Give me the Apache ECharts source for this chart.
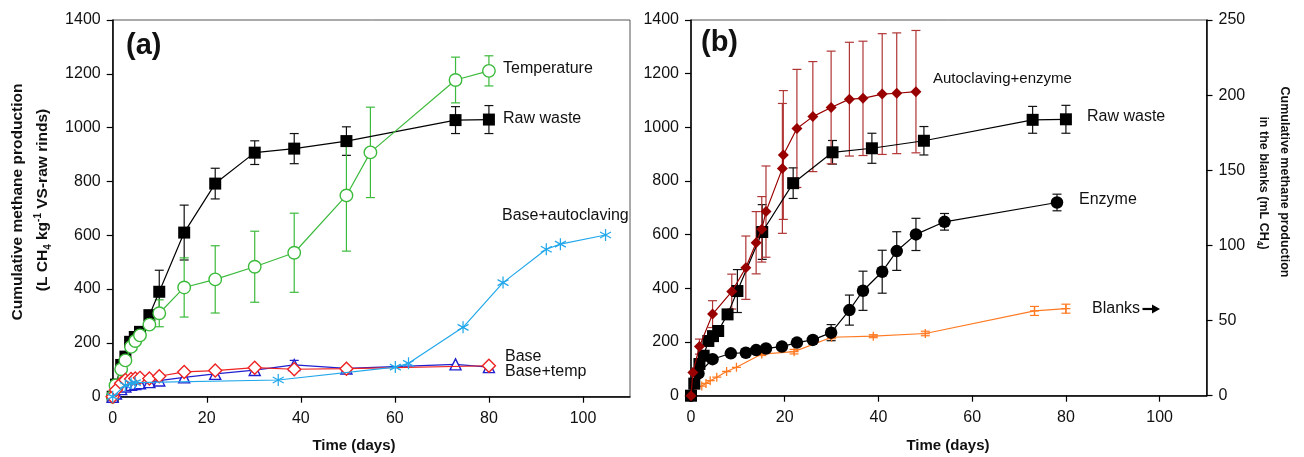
<!DOCTYPE html>
<html><head><meta charset="utf-8">
<script src="https://cdn.jsdelivr.net/npm/echarts@6/dist/echarts.min.js"></script>
<style>html,body{margin:0;padding:0;background:#fff}#c{width:1304px;height:457px}</style>
</head><body><div id="c"></div>
<script>
// ---------- Panel (a) ----------
const rawTime  = [0, 0.7, 1.8, 2.7, 3.7, 4.7, 5.8, 7.8, 9.9, 15.2, 21.8, 30.2, 38.6, 49.7, 72.9, 80];
const rawValue = [0, 45, 118, 149, 204, 222, 241, 303, 390, 610, 792, 907, 922, 950, 1028, 1030];
const rawError = [0, 0, 0, 0, 0, 10, 12, 15, 80, 102, 57, 44, 56, 53, 50, 52];

const tempTime  = [0, 0.6, 1.8, 2.7, 3.9, 4.8, 5.8, 7.8, 9.9, 15.2, 21.8, 30.2, 38.6, 49.7, 54.8, 72.9, 80];
const tempValue = [0, 42, 102, 135, 185, 207, 228, 268, 310, 406, 436, 483, 535, 748, 908, 1177, 1211];
const tempError = [0, 0, 0, 0, 0, 0, 0, 0, 50, 110, 125, 132, 147, 207, 168, 85, 56];

const baseTime  = [0, 0.7, 1.8, 2.7, 3.9, 4.8, 5.8, 7.8, 9.9, 15.2, 21.8, 30.2, 38.6, 49.7, 80];
const baseValue = [0, 25, 50, 62, 66, 68, 70, 68, 76, 92, 97, 108, 102, 104, 115];

const baseTempTime  = [0, 0.7, 1.8, 2.7, 3.9, 4.8, 5.8, 7.8, 9.9, 15.2, 21.8, 30.2, 38.6, 49.7, 72.9, 80];
const baseTempValue = [0, 12, 28, 38, 44, 47, 50, 54, 60, 72, 85, 99, 118, 105, 120, 110];
const baseTempError = [0, 0, 0, 0, 0, 0, 0, 0, 0, 0, 0, 0, 17, 0, 0, 0];

const baseAutoTime  = [0, 2.7, 3.9, 4.8, 35.2, 60.1, 62.9, 74.5, 83, 92.2, 95.2, 104.8];
const baseAutoValue = [0, 42, 50, 52, 62, 110, 124, 258, 424, 548, 567, 601];

// ---------- Panel (b) ----------
const autoEnzTime  = [0, 0.4, 1.8, 4.6, 8.7, 11.7, 13.9, 15.1, 16, 19.5, 19.7, 22.6, 26, 29.9, 33.8, 36.7, 40.8, 43.9, 48];
const autoEnzValue = [0, 86, 183, 304, 388, 477, 570, 620, 686, 847, 897, 996, 1040, 1074, 1105, 1108, 1124, 1127, 1133];
const autoEnzError = [0, 0, 28, 50, 65, 118, 116, 122, 170, 242, 240, 220, 205, 210, 212, 213, 225, 225, 228];

const enzTime  = [0, 1.6, 4.6, 8.5, 11.7, 13.9, 16, 19.4, 22.6, 26, 29.9, 33.8, 36.7, 40.8, 43.9, 48, 54.1, 78.1];
const enzValue = [0, 83, 136, 158, 160, 170, 176, 183, 198, 208, 235, 319, 391, 462, 539, 601, 648, 720];
const enzError = [0, 0, 0, 0, 0, 0, 0, 0, 0, 0, 30, 56, 73, 80, 72, 60, 31, 31];

// blanks on right axis (mL CH4)
const blankTime  = [0, 0.9, 2.3, 3.2, 4.1, 5.5, 7.6, 9.7, 15.1, 22, 30, 38.9, 50, 73.3, 80];
const blankValue = [2.7, 4.8, 6.4, 8.2, 10, 12.3, 16.1, 18.9, 27.7, 29.3, 38.9, 39.6, 41.4, 56.4, 57.9];
const blankError = [0, 0, 0, 0, 0, 0, 0, 0, 1, 1.5, 1, 1, 1.5, 3, 3];

const xTicks = [0, 20, 40, 60, 80, 100];

const FONT = 'Liberation Sans, Arial, sans-serif';
const pairs = (t, v) => t.map((x, i) => [x, v[i]]);

function errSeries(xi, yi, times, vals, errs, color, capHalf) {
  const data = [];
  times.forEach((t, i) => { if (errs[i] > 0) data.push([t, vals[i], errs[i]]); });
  return {
    type: 'custom', xAxisIndex: xi, yAxisIndex: yi, z: 1, silent: true,
    data: data, encode: { x: 0, y: 1 },
    renderItem: function (params, api) {
      const x = api.value(0), y = api.value(1), e = api.value(2);
      const hi = api.coord([x, y + e]), lo = api.coord([x, y - e]);
      const st = { stroke: color, lineWidth: 1.2 };
      return { type: 'group', children: [
        { type: 'line', shape: { x1: hi[0], y1: hi[1], x2: lo[0], y2: lo[1] }, style: st },
        { type: 'line', shape: { x1: hi[0] - capHalf, y1: hi[1], x2: hi[0] + capHalf, y2: hi[1] }, style: st },
        { type: 'line', shape: { x1: lo[0] - capHalf, y1: lo[1], x2: lo[0] + capHalf, y2: lo[1] }, style: st }
      ]};
    }
  };
}

function lineSeries(xi, yi, times, vals, color, symbol, size, filled, z) {
  return {
    type: 'line', xAxisIndex: xi, yAxisIndex: yi, z: z, silent: true,
    data: pairs(times, vals), symbol: symbol, symbolSize: size, showAllSymbol: true,
    lineStyle: { color: color, width: 1.2 },
    itemStyle: filled ? { color: color, borderColor: color, borderWidth: 0 }
                      : { color: '#fff', borderColor: color, borderWidth: 1.4 },
    animation: false
  };
}

const ASTER = 'path://M5,0L5,10M0.67,2.5L9.33,7.5M0.67,7.5L9.33,2.5';
const PLUS = 'path://M5,0L5,10M0,5L10,5';

function strokeSym(s) {
  s.itemStyle = { color: s.lineStyle.color, borderColor: s.lineStyle.color, borderWidth: 1.3 };
  return s;
}

const GREEN = '#3cba3c', RED = '#ee2222', BLUE = '#2020d0', CYAN = '#22a8ea',
      DRED = '#990000', DREDERR = '#b03535', ORANGE = '#ff7a22';

function xAx(gi) {
  return {
    gridIndex: gi, type: 'value', min: 0, max: 110, interval: 20,
    axisLine: { show: true, lineStyle: { color: '#000', width: 1.5 } },
    axisTick: { show: true, inside: false, length: 6, lineStyle: { color: '#000', width: 1.2 } },
    splitLine: { show: false },
    axisLabel: { fontSize: 16, color: '#111', fontFamily: FONT, margin: 14, showMaxLabel: false,
                 formatter: v => xTicks.indexOf(v) >= 0 ? String(v) : '' }
  };
}
function yAx(gi, max, interval, pos) {
  return {
    gridIndex: gi, type: 'value', min: 0, max: max, interval: interval, position: pos,
    axisLine: { show: true, onZero: false, lineStyle: { color: '#000', width: 1.5 } },
    axisTick: { show: true, inside: false, length: 6, lineStyle: { color: '#000', width: 1.2 } },
    splitLine: { show: false },
    axisLabel: { fontSize: 16, color: '#111', fontFamily: FONT, margin: 12, formatter: v => String(v) }
  };
}

const labelText = (x, y, txt, size) => ({
  type: 'text', x: x, y: y, silent: true,
  style: { text: txt, fontSize: size || 16, fontFamily: FONT, fill: '#111', align: 'left', verticalAlign: 'middle' }
});

const option = {
  animation: false,
  backgroundColor: '#fff',
  grid: [
    { left: 112.7, right: 674, top: 20, bottom: 60.3, show: true, borderColor: '#555', borderWidth: 1, backgroundColor: 'transparent' },
    { left: 691, right: 97.5, top: 20, bottom: 61.3, show: true, borderColor: '#555', borderWidth: 1, backgroundColor: 'transparent' }
  ],
  xAxis: [xAx(0), xAx(1)],
  yAxis: [yAx(0, 1400, 200, 'left'), yAx(1, 1400, 200, 'left'), yAx(1, 250, 50, 'right')],
  series: [
    // panel a
    errSeries(0, 0, rawTime, rawValue, rawError, '#111', 4.5),
    errSeries(0, 0, tempTime, tempValue, tempError, GREEN, 4.5),
    errSeries(0, 0, baseTempTime, baseTempValue, baseTempError, BLUE, 4.5),
    lineSeries(0, 0, rawTime, rawValue, '#000', 'rect', 12, true, 3),
    lineSeries(0, 0, tempTime, tempValue, GREEN, 'circle', 12.5, false, 4),
    lineSeries(0, 0, baseTempTime, baseTempValue, BLUE, 'triangle', 11, false, 5),
    lineSeries(0, 0, baseTime, baseValue, RED, 'diamond', 13, false, 6),
    strokeSym(lineSeries(0, 0, baseAutoTime, baseAutoValue, CYAN, ASTER, [11, 12], true, 7)),
    // panel b
    errSeries(1, 2, blankTime, blankValue, blankError, ORANGE, 4.5),
    errSeries(1, 1, rawTime, rawValue, rawError, '#111', 4.5),
    errSeries(1, 1, enzTime, enzValue, enzError, '#111', 4.5),
    errSeries(1, 1, autoEnzTime, autoEnzValue, autoEnzError, DREDERR, 4.5),
    strokeSym(lineSeries(1, 2, blankTime, blankValue, ORANGE, PLUS, 9, true, 3)),
    lineSeries(1, 1, rawTime, rawValue, '#000', 'rect', 12, true, 4),
    lineSeries(1, 1, enzTime, enzValue, '#000', 'circle', 12.5, true, 5),
    lineSeries(1, 1, autoEnzTime, autoEnzValue, DRED, 'diamond', 11, true, 6)
  ],
  graphic: [
    { type: 'text', x: 126, y: 46, silent: true,
      style: { text: '(a)', fontSize: 29, fontWeight: 'bold', fontFamily: FONT, fill: '#111', align: 'left', verticalAlign: 'middle' } },
    { type: 'text', x: 701, y: 43, silent: true,
      style: { text: '(b)', fontSize: 29, fontWeight: 'bold', fontFamily: FONT, fill: '#111', align: 'left', verticalAlign: 'middle' } },
    labelText(503, 69, 'Temperature'),
    labelText(503, 119, 'Raw waste'),
    labelText(502, 216, 'Base+autoclaving'),
    labelText(505, 357, 'Base'),
    labelText(505, 372, 'Base+temp'),
    labelText(933, 79, 'Autoclaving+enzyme', 15),
    labelText(1087, 117, 'Raw waste'),
    labelText(1079, 200, 'Enzyme'),
    labelText(1092, 309, 'Blanks'),
    { type: 'line', silent: true, shape: { x1: 1142.5, y1: 309, x2: 1153, y2: 309 }, style: { stroke: '#000', lineWidth: 2.2 } },
    { type: 'polygon', silent: true, shape: { points: [[1152, 304.5], [1160, 309], [1152, 313.5]] }, style: { fill: '#000' } },
    // x titles
    { type: 'text', x: 354, y: 446, silent: true,
      style: { text: 'Time (days)', fontSize: 15, fontWeight: 'bold', fontFamily: FONT, fill: '#111', align: 'center', verticalAlign: 'middle' } },
    { type: 'text', x: 948, y: 446, silent: true,
      style: { text: 'Time (days)', fontSize: 15, fontWeight: 'bold', fontFamily: FONT, fill: '#111', align: 'center', verticalAlign: 'middle' } },
    // left y title
    { type: 'text', x: 18, y: 202, rotation: Math.PI / 2, silent: true,
      style: { text: 'Cumulative methane production', fontSize: 15.5, fontWeight: 'bold', fontFamily: FONT, fill: '#111', align: 'center', verticalAlign: 'middle' } },
    { type: 'text', x: 43, y: 200, rotation: Math.PI / 2, silent: true,
      style: { text: '(L CH{sub|4} kg{sup|-1} VS-raw rinds)', fontSize: 15.5, fontWeight: 'bold', fontFamily: FONT, fill: '#111',
               align: 'center', verticalAlign: 'middle', lineHeight: 20,
               rich: { sub: { fontSize: 10, fontWeight: 'bold', fontFamily: FONT, fill: '#111', verticalAlign: 'bottom', lineHeight: 20 },
                       sup: { fontSize: 10, fontWeight: 'bold', fontFamily: FONT, fill: '#111', verticalAlign: 'top', lineHeight: 20 } } } },
    // right y title
    { type: 'text', x: 1284, y: 182, rotation: -Math.PI / 2, silent: true,
      style: { text: 'Cumulative methane production', fontSize: 12.5, fontWeight: 'bold', fontFamily: FONT, fill: '#111', align: 'center', verticalAlign: 'middle' } },
    { type: 'text', x: 1263, y: 183, rotation: -Math.PI / 2, silent: true,
      style: { text: 'in the blanks (mL CH{sub|4})', fontSize: 12.5, fontWeight: 'bold', fontFamily: FONT, fill: '#111',
               align: 'center', verticalAlign: 'middle', lineHeight: 17,
               rich: { sub: { fontSize: 8.5, fontWeight: 'bold', fontFamily: FONT, fill: '#111', verticalAlign: 'bottom', lineHeight: 17 } } } }
  ]
};

const chart = echarts.init(document.getElementById('c'), null, { renderer: 'canvas' });
chart.setOption(option);
</script></body></html>
